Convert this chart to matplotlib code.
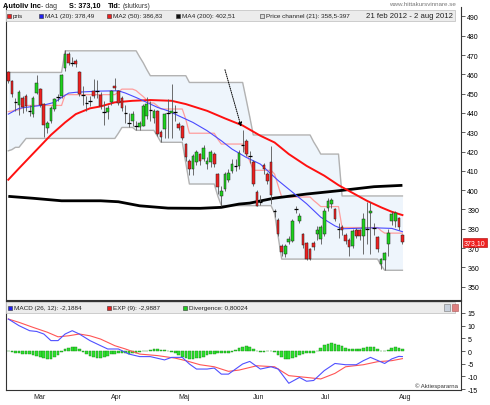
import numpy as np
import matplotlib.pyplot as plt
from matplotlib.patches import Rectangle

plt.rcParams['font.family'] = ['Liberation Sans', 'DejaVu Sans']
plt.rcParams['axes.unicode_minus'] = False

W, H = 490, 406

# daily candles, 21 feb - 2 aug 2012 (trading days)
opens = [461, 456.5, 445, 444, 448, 449, 441.5, 439.5, 450.5, 452.5,
         444.5, 432, 436, 442, 448, 449, 463.5, 470.5, 466.5, 467,
         461, 450, 445.5, 446.5, 451.5, 452, 449.5, 441, 440.5, 445.5,
         454, 451.5, 448, 440.5, 435.5, 436, 433.5, 432.5, 433.5, 438.5,
         441, 437.5, 441, 430, 431.5, 440.5, 440, 441, 434.5, 433.5,
         424, 415, 411, 414.5, 418.5, 416, 413.5, 414.5, 419, 408.5,
         397, 400.5, 405.5, 410, 412, 412.5, 423, 425.5, 418, 414.5,
         399, 394.5, 413, 408.5, 414.5, 388.5, 384.5, 371, 367, 373.3,
         373.8, 390, 384.2, 377.2, 372.4, 369.5, 372.4, 377.5, 374.7, 377.2,
         390.7, 392.8, 390.2, 380.5, 381, 376.9, 374.2, 371.2, 379.3, 379.3,
         376.4, 380.5, 388.2, 380.9, 375.6, 361.7, 363.8, 372, 383.8, 384,
         385.5, 376.9]
closes = [456.5, 450, 445.5, 451, 443, 443.5, 441, 448, 455.5, 444,
          434, 435, 442.5, 447, 448.5, 459.5, 470.5, 466, 466, 465.5,
          450, 449.5, 445, 446, 449, 451.5, 443.5, 440.5, 442.5, 451.5,
          453, 445, 442.5, 440, 435, 439.5, 433, 435, 443.5, 444.5,
          441.5, 441, 429, 427.5, 439.5, 440, 441, 440.5, 432, 427,
          417, 411, 417.5, 420, 415, 422, 415, 420, 413.5, 401.5,
          399.5, 408.5, 409, 413.5, 412.5, 419.5, 423.5, 419, 417.5, 403,
          392, 394, 411, 404.5, 397.5, 389, 377.5, 368, 371, 374.5,
          384.2, 390.5, 386.8, 371.5, 364.5, 364.5, 370.6, 379.3, 380.7, 389.3,
          394.5, 394.9, 385, 380, 379.5, 373.8, 370.4, 379, 376.4, 376.4,
          385, 380, 389.3, 380.5, 369.5, 364.3, 367.3, 377.8, 387.6, 388,
          380.7, 373.1]
highs = [462, 457, 448, 452, 449, 450, 444, 449, 459.5, 453,
         445, 436, 443.5, 448, 450, 460, 472.5, 471.5, 469, 468,
         461.5, 454, 449, 449, 457.5, 457, 451, 446, 444, 452,
         458, 452, 449, 444, 440, 441, 436, 436, 444.5, 448.5,
         446, 442, 441.5, 431, 440, 447, 455, 444, 435.5, 434,
         424.5, 416, 418.5, 421, 419.5, 423.5, 417, 421, 420, 409,
         402, 409.5, 411, 416, 416, 421, 431, 426.5, 420.5, 415.5,
         400, 397.5, 414, 409.5, 423, 390.5, 385.5, 372, 372, 376,
         385, 392, 388, 378, 373, 370, 373.5, 381.5, 382, 391,
         396, 396, 391, 383, 382, 378, 375, 380, 380.5, 380,
         388, 394, 394, 383, 376.5, 365, 368, 380, 389, 389,
         386, 377.5]
lows = [455.5, 448.5, 441, 439, 440, 441, 438.5, 438, 450, 443,
        427.5, 429.5, 435, 441, 446, 448, 462, 465, 464.5, 464,
        449, 444, 441, 443.5, 448, 447.5, 442, 434, 437, 444,
        452, 444, 441, 435, 432.5, 433, 431, 431, 433, 437,
        436, 435, 428, 425, 427, 427, 427, 436, 431, 426,
        415, 408, 408, 413, 413, 415, 411, 412, 412, 398,
        392, 399.5, 404, 409, 410, 411, 420, 417.5, 414, 402,
        392, 392.5, 408.5, 403, 393, 386, 376, 366, 365.5, 372,
        373, 388, 383, 370, 364, 364, 369, 374, 372, 376,
        389, 391, 384, 375, 377, 372, 366, 370, 375, 374,
        367, 372, 367, 377, 368, 359, 358.5, 366, 382, 381,
        379.5, 372]

# price channel (21) as (level, number of days)
upper_runs = [(461, 16), (472.2, 21), (469, 1), (466, 1), (462.5, 1), (459.3, 11),
              (455.8, 16), (447, 1), (438, 1), (428.6, 17), (425, 1), (422, 1),
              (418.7, 6), (397, 18)]
lower_runs = [(420.4, 1), (421, 1), (422.2, 2), (424.5, 1), (426.8, 26), (429.5, 1),
              (432.5, 4), (431, 6), (428, 1), (424.8, 7), (414, 1), (403.2, 8),
              (397, 1), (392, 15), (388, 1), (376, 1), (364.3, 28), (361, 1),
              (358.5, 6)]

# moving averages read at some days
ma20_day = [0, 3, 7, 10, 13, 15, 17, 19, 25, 31, 33, 36, 39, 42, 45, 48, 52, 56,
            60, 63, 67, 71, 76, 81, 84, 88, 92, 94, 103, 108, 111]
ma20_val = [439.4, 442.4, 443.4, 444.1, 445.5, 448.0, 450.3, 450.7, 451.3, 451.5,
            450.3, 448.0, 445.5, 442.9, 441.1, 438.5, 435.1, 430.8, 425.6, 421.3,
            417.0, 413.5, 405.0, 397.5, 393.0, 386.0, 381.5, 380.0, 380.5, 380.2, 378.5]
ma50_day = [0, 3, 7, 12, 16, 19, 23, 26, 30, 35, 40, 46, 50, 56, 61, 66, 71, 75,
            79, 84, 89, 93, 101, 105, 108, 111]
ma50_val = [405.4, 411.3, 419.0, 428.6, 435.1, 439.4, 442.4, 443.4, 445.5, 446.3,
            446.7, 446.3, 444.6, 441.1, 437.2, 433.5, 428.2, 424.7, 418.7, 412.6,
            407.5, 402.6, 394.5, 391.1, 388.8, 387.1]
ma200_day = [0, 7, 15, 26, 31, 37, 45, 54, 60, 65, 68, 75, 84, 93, 103, 111]
ma200_val = [396.8, 395.8, 394.5, 394.5, 394.0, 391.9, 390.7, 390.6, 391.1, 392.8,
             393.3, 395.9, 398.0, 399.7, 401.8, 402.5]

# MACD panel
macd_day = [0, 3, 6, 8, 10, 12, 14, 16, 18, 20, 23, 26, 28, 31, 34, 37, 40, 44, 46,
            49, 51, 53, 56, 58, 60, 62, 64, 66, 68, 71, 74, 76, 79, 82, 84, 86, 89,
            92, 95, 98, 100, 102, 106, 108, 110, 111]
macd_val = [12.6, 10.0, 8.0, 7.7, 6.7, 4.1, 4.1, 6.7, 8.0, 6.7, 4.1, 2.1, 0.8, 0.8,
            -1.2, -2.2, -2.2, -3.5, -2.5, -2.5, -5.1, -7.1, -7.1, -6.7, -9.1, -9.1,
            -7.1, -5.1, -4.1, -7.1, -6.2, -7.1, -12.7, -10.4, -11.9, -11.6, -7.7,
            -4.9, -5.4, -5.4, -3.8, -2.5, -4.9, -3.1, -2.1, -2.2]
exp_day = [0, 3, 7, 11, 14, 17, 20, 23, 26, 30, 33, 37, 42, 47, 50, 54, 58, 62, 65,
           70, 75, 79, 84, 88, 92, 95, 100, 104, 108, 111]
exp_val = [12.6, 11.3, 9.3, 7.4, 5.6, 6.0, 6.7, 6.0, 4.7, 2.1, 0.8, -1.2, -1.8, -2.8,
           -3.8, -5.4, -6.2, -8.0, -7.5, -5.8, -6.2, -9.7, -10.4, -11.0, -8.8, -6.2,
           -5.4, -4.2, -3.8, -3.0]
divergence = [0.0, -0.3, -0.6, -0.8, -1.0, -1.1, -1.3, -1.6, -2.0, -2.5,
              -2.9, -3.1, -3.0, -2.5, -1.6, -0.5, 0.6, 1.3, 1.6, 1.4,
              0.8, -0.2, -1.2, -1.9, -2.4, -2.6, -2.6, -2.3, -1.8, -1.3,
              -1.0, -0.8, -0.8, -0.9, -1.0, -0.9, -0.7, -0.4, -0.1, 0.2,
              0.5, 0.6, 0.6, 0.5, 0.3, 0.1, -0.2, -0.8, -1.5, -2.2,
              -2.7, -3.0, -3.1, -2.9, -2.6, -2.2, -1.7, -1.2, -1.0, -0.9,
              -0.9, -0.8, -0.6, -0.2, 0.5, 1.2, 1.7, 1.8, 1.5, 0.8,
              0.0, -0.5, -0.3, 0.0, 0.1, -0.5, -1.4, -2.3, -3.0, -3.1,
              -2.8, -2.2, -1.5, -1.0, -0.8, -0.9, -0.6, 0.2, 1.2, 2.2,
              2.9, 3.1, 2.8, 2.3, 1.8, 1.3, 0.9, 0.7, 0.8, 0.8,
              1.0, 1.4, 1.6, 1.4, 0.8, 0.1, -0.1, 0.4, 1.1, 1.4,
              1.2, 0.8]

months = ['Mar', 'Apr', 'Maj', 'Jun', 'Jul', 'Aug']
month_day = [7, 29, 48, 69, 88, 110]

price_ticks = list(range(350, 491, 10))
macd_ticks = [-15, -10, -5, 0, 5, 10, 15]


def fx(px):
    return px / W


def fy(py):
    return 1 - py / H


def box(x, y, w, h, fc, ec='#333333', lw=0.4, z=5):
    fig.patches.append(Rectangle((fx(x), fy(y + h)), w / W, h / H, transform=fig.transFigure,
                                 facecolor=fc, edgecolor=ec, lw=lw, zorder=z))


def label(x, y, s, **kw):
    kw.setdefault('fontsize', 4.6)
    kw.setdefault('va', 'center')
    kw.setdefault('color', '#222222')
    fig.text(fx(x), fy(y), s, zorder=10, **kw)


fig = plt.figure(figsize=(W / 100, H / 100), dpi=100)
ax = fig.add_axes([fx(6), fy(301), 455 / W, 293 / H])
ax2 = fig.add_axes([fx(6), fy(391), 455 / W, 89 / H])

n = len(closes)
xs = np.arange(n)
o, c, h, l = map(np.array, (opens, closes, highs, lows))
upper = np.repeat([v for v, k in upper_runs], [k for v, k in upper_runs])
lower = np.repeat([v for v, k in lower_runs], [k for v, k in lower_runs])

# price channel
ax.fill_between(xs, lower, upper, color='#eef5fc', lw=0, zorder=0)
ax.plot(xs, upper, color='#b2b2b2', lw=1, zorder=1)
ax.plot(xs, lower, color='#b2b2b2', lw=1, zorder=1)
ax.plot(xs, (upper + lower) / 2, color='#ff9d9d', lw=0.9, zorder=1)

ax.plot(ma200_day, ma200_val, color='black', lw=2, zorder=2, solid_capstyle='butt')
ax.plot(ma50_day, ma50_val, color='#ff1010', lw=1.4, zorder=2)
ax.plot(ma20_day, ma20_val, color='#4a4aff', lw=0.8, zorder=2)

# candles
ax.vlines(xs, l, h, color='#555555', lw=0.6, zorder=3)
up = c - o > 0.6
dn = o - c > 0.6
doji = ~(up | dn)
ax.bar(xs[up], (c - o)[up], bottom=o[up], width=0.75, color='#1ed21e',
       edgecolor='#222222', lw=0.35, zorder=4)
ax.bar(xs[dn], (c - o)[dn], bottom=o[dn], width=0.75, color='#ee2020',
       edgecolor='#222222', lw=0.35, zorder=4)
ax.hlines(c[doji], xs[doji] - 0.5, xs[doji] + 0.5, color='black', lw=0.9, zorder=4)

ax.annotate('', xy=(65.8, 431.5), xytext=(60.8, 463.8),
            arrowprops=dict(arrowstyle='-|>', ls=(0, (1, 1.2)), lw=0.7,
                            color='black', mutation_scale=6))

ax.set_xlim(-0.65, 127.5)
ax.set_ylim(343.1, 494.9)
ax.set_xticks([])
ax.yaxis.tick_right()
ax.set_yticks(price_ticks)
ax.tick_params(axis='y', length=3, width=0.6, labelsize=5, pad=1.5, color='#444444')
for s in ['left', 'right', 'bottom']:
    ax.spines[s].set_linewidth(0.8)
    ax.spines[s].set_color('#333333')
ax.spines['top'].set_visible(False)

ax.text(1 + 3 / 455, closes[-1], f'{closes[-1]:.2f}'.replace('.', ','),
        transform=ax.get_yaxis_transform(), ha='left', va='center', fontsize=5,
        color='white', bbox=dict(boxstyle='square,pad=0.15', fc='#ee2020', ec='#aa0000', lw=0.4),
        clip_on=False)

# MACD
ax2.bar(xs, divergence, width=0.75, color='#2ee02e', edgecolor='#138a13', lw=0.3, zorder=2)
ax2.plot(exp_day, exp_val, color='#ff5555', lw=0.8, zorder=3)
ax2.plot(macd_day, macd_val, color='#5050ff', lw=0.8, zorder=3)
ax2.set_xlim(-0.65, 127.5)
ax2.set_ylim(-15.35, 19.7)
ax2.set_xticks([])
ax2.yaxis.tick_right()
ax2.set_yticks(macd_ticks)
ax2.tick_params(axis='y', length=3, width=0.6, labelsize=5, pad=1.5, color='#444444')
for s in ax2.spines.values():
    s.set_linewidth(0.8)
    s.set_color('#333333')
for m, d in zip(months, month_day):
    ax2.text(d, -0.07, m, transform=ax2.get_xaxis_transform(), ha='left', va='center',
             fontsize=5, color='#222222')

# header
label(3, 6, 'Autoliv Inc', fontsize=5.3, fontweight='bold', color='black')
label(41, 6, '- dag', fontsize=5, color='#333333')
label(69, 6, 'S: 373,10', fontsize=5.2, fontweight='bold', color='black')
label(108, 6, 'Tid:', fontsize=5.2, fontweight='bold', color='black')
label(123, 6, '(slutkurs)', fontsize=4.8, color='#333333')
label(456, 5, 'www.hittakursvinnare.se', fontsize=4.5, ha='right', color='#777777')

# legend bars
box(6, 11, 449, 11, '#ececec', ec='#c6c6c6', lw=0.6, z=4)
box(6, 303, 449, 11, '#ececec', ec='#c6c6c6', lw=0.6, z=4)

legend_main = [(7, '#ee2020', 'pris'), (39, '#2020ee', 'MA1 (20): 378,49'),
               (107, '#ee2020', 'MA2 (50): 386,83'), (176, '#111111', 'MA4 (200): 402,51'),
               (260, '#d8d8d8', 'Price channel (21): 358,5-397')]
for x, col, txt in legend_main:
    box(x, 14.5, 4, 4, col)
    label(x + 6, 16.5, txt)
label(453, 16.5, '21 feb 2012 - 2 aug 2012', fontsize=5.6, ha='right')

legend_macd = [(8, '#2020ee', 'MACD (26, 12): -2,1884'), (107, '#ee2020', 'EXP (9): -2,9887'),
               (183, '#22cc22', 'Divergence: 0,80024')]
for x, col, txt in legend_macd:
    box(x, 306.5, 4, 4, col)
    label(x + 6, 308.5, txt)
box(444, 305, 6, 7, '#c8d0dc', ec='#777777')
box(452, 305, 6, 7, '#e08080', ec='#aa5555')

label(458, 386, '\u00a9 Aktiespararna', fontsize=4.3, ha='right', color='#333333')

fig.savefig('out.png', dpi=100)
